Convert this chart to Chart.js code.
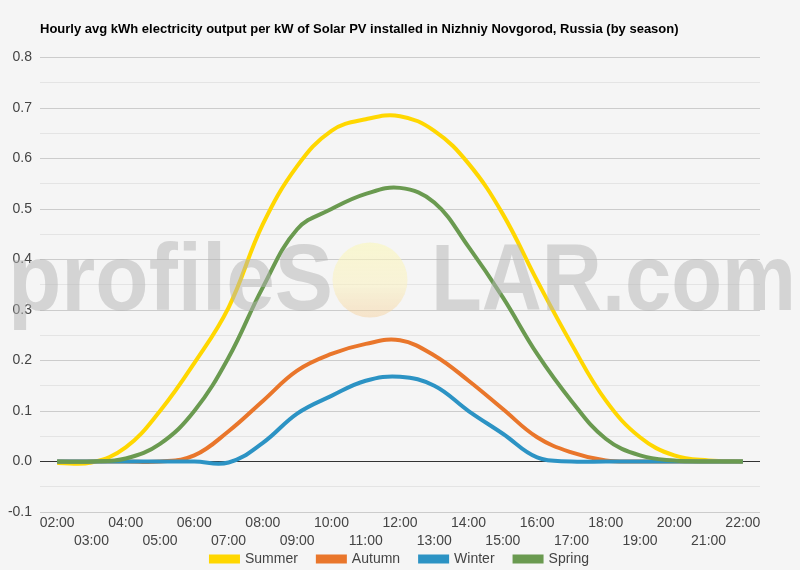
<!DOCTYPE html>
<html>
<head>
<meta charset="utf-8">
<script src="https://cdn.jsdelivr.net/npm/chart.js@4"></script>
<style>
    html, body { margin: 0; padding: 0; background: #f5f5f5; }
    #wrap { width: 800px; height: 570px; }
</style>
</head>
<body>
<div id="wrap"><canvas id="chart" width="800" height="570"></canvas></div>
<script>
// Hours on the x axis
const hours = ["02:00", "03:00", "04:00", "05:00", "06:00", "07:00", "08:00", "09:00", "10:00", "11:00", "12:00",
    "13:00", "14:00", "15:00", "16:00", "17:00", "18:00", "19:00", "20:00", "21:00", "22:00"];

// kWh per kW
const summer = [-0.003, -0.002, 0.028, 0.10, 0.195, 0.305, 0.47, 0.585, 0.655, 0.678, 0.684, 0.655, 0.59, 0.49, 0.358, 0.233, 0.121, 0.048, 0.012, 0.002, 0.0];
const autumn = [0.0, 0.0, 0.0, 0.0, 0.012, 0.06, 0.12, 0.18, 0.213, 0.233, 0.24, 0.21, 0.16, 0.104, 0.048, 0.018, 0.002, 0.0, 0.0, 0.0, 0.0];
const winter = [0.0, 0.0, 0.0, 0.0, 0.0, -0.002, 0.037, 0.095, 0.13, 0.16, 0.168, 0.15, 0.10, 0.055, 0.008, 0.0, 0.0, 0.0, 0.0, 0.0, 0.0];
const spring = [0.0, 0.0, 0.006, 0.035, 0.10, 0.206, 0.345, 0.46, 0.50, 0.53, 0.542, 0.513, 0.425, 0.325, 0.213, 0.12, 0.045, 0.012, 0.002, 0.0, 0.0];

const seriesNames = ["Summer", "Autumn", "Winter", "Spring"];
const seriesColors = ["#ffd700", "#e9762b", "#2c93c4", "#6a9a50"];

const FONT = "Arial, 'Liberation Sans', sans-serif";

// draw a word squeezed to a given width
function fitText(ctx, text, x, y, width) {
    const w = ctx.measureText(text).width;
    ctx.save();
    ctx.translate(x, y);
    ctx.scale(width / w, 1);
    ctx.fillText(text, 0, 0);
    ctx.restore();
}

// Watermark drawn over the plot, like the site's overlay image
const watermark = {
    id: "watermark",
    afterInit(chart) {
        // keep the legend strip short so it sits right under the hour labels
        const legend = chart.legend;
        const fit = legend.fit;
        legend.fit = function () {
            fit.call(this);
            this.height = 22;
        };
    },
    beforeDraw(chart) {
        // legend items are drawn from top + padding, pull it up a bit
        chart.legend.top = chart.legend.bottom - 38;
    },
    afterDraw(chart) {
        const ctx = chart.ctx;
        ctx.save();
        ctx.fillStyle = "rgba(179,179,179,0.5)";
        ctx.font = "bold 94px " + FONT;
        ctx.textBaseline = "alphabetic";
        fitText(ctx, "profileS", 8, 310, 325);
        fitText(ctx, "LAR.com", 431, 310, 365);
        // sun in place of the O
        const g = ctx.createLinearGradient(0, 242, 0, 317);
        g.addColorStop(0, "rgba(250,247,185,0.6)");
        g.addColorStop(0.6, "rgba(250,240,190,0.55)");
        g.addColorStop(1, "rgba(245,205,150,0.45)");
        ctx.fillStyle = g;
        ctx.beginPath();
        ctx.arc(370, 280, 37.5, 0, Math.PI * 2);
        ctx.fill();
        ctx.restore();
    }
};

const tickFont = { family: FONT, size: 14 };

new Chart(document.getElementById("chart"), {
    type: "line",
    plugins: [watermark],
    data: {
        labels: hours,
        datasets: [summer, autumn, winter, spring].map((vals, i) => ({
            label: seriesNames[i],
            data: vals,
            borderColor: seriesColors[i],
            backgroundColor: seriesColors[i],
            borderWidth: 4,
            pointRadius: 0,
            tension: 0.4,
            order: 4 - i,
        })),
    },
    options: {
        responsive: false,
        animation: false,
        layout: { padding: { left: 0, right: 40, top: 0, bottom: 0 } },
        plugins: {
            tooltip: { enabled: false },
            title: {
                display: true,
                fullSize: false,
                text: "Hourly avg kWh electricity output per kW of Solar PV installed in Nizhniy Novgorod, Russia (by season)",
                align: "start",
                color: "#000",
                font: { family: FONT, size: 13, weight: "bold" },
                padding: { top: 22, bottom: 20 },
            },
            legend: {
                position: "bottom",
                fullSize: false,
                labels: {
                    boxWidth: 27,
                    boxHeight: 5,
                    color: "#444",
                    font: { family: FONT, size: 14 },
                    padding: 20,
                    sort: (a, b) => a.datasetIndex - b.datasetIndex,
                },
            },
        },
        scales: {
            // even hours, first row
            x: {
                offset: true,
                weight: 0,
                afterFit: s => { s.height = 18; },
                grid: { display: false, drawTicks: false },
                border: { display: false },
                ticks: {
                    autoSkip: false,
                    maxRotation: 0,
                    color: "#444",
                    font: tickFont,
                    padding: 3,
                    callback: (v, i) => i % 2 === 0 ? hours[i] : "",
                },
            },
            // odd hours, second row
            x2: {
                type: "category",
                position: "bottom",
                offset: true,
                weight: 1,
                afterFit: s => { s.height = 18; },
                grid: { display: false, drawTicks: false },
                border: { display: false },
                ticks: {
                    autoSkip: false,
                    maxRotation: 0,
                    color: "#444",
                    font: tickFont,
                    padding: 3,
                    callback: (v, i) => i % 2 === 1 ? hours[i] : "",
                },
            },
            y: {
                min: -0.1,
                max: 0.8,
                afterFit: s => { s.width = 40; },
                border: { display: false },
                grid: {
                    drawTicks: false,
                    lineWidth: 1,
                    color: c => {
                        const v = Math.round(c.tick.value * 100);
                        if (v === 0) return "#333";
                        return v % 10 === 0 ? "#cccccc" : "#e4e4e4";
                    },
                },
                ticks: {
                    stepSize: 0.05,
                    color: "#444",
                    padding: 8,
                    font: tickFont,
                    callback: v => Math.round(v * 100) % 10 === 0 ? v.toFixed(1) : "",
                },
            },
        },
    },
});
</script>
</body>
</html>
